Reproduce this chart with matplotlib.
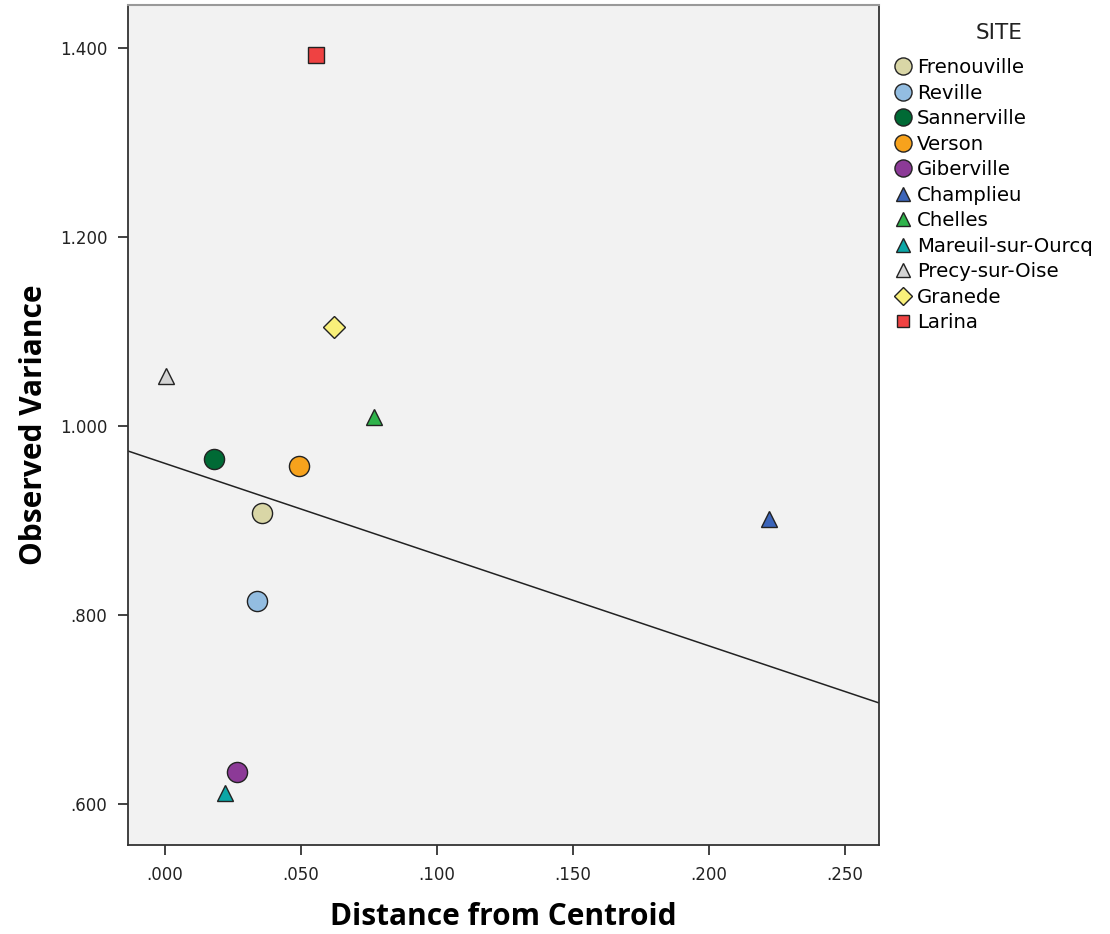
import matplotlib
matplotlib.use("Agg")
import matplotlib.pyplot as plt
from matplotlib.ticker import FuncFormatter

# ── data ─────────────────────────────────────────────────────
sites = ["Frenouville", "Reville", "Sannerville", "Verson", "Giberville",
         "Champlieu", "Chelles", "Mareuil-sur-Ourcq", "Precy-sur-Oise",
         "Granede", "Larina"]
distance = [0.0357, 0.0338, 0.0182, 0.0491, 0.0266,
            0.2220, 0.0768, 0.0222, 0.0004, 0.0622, 0.0557]
variance = [0.908, 0.815, 0.965, 0.958, 0.634,
            0.902, 1.009, 0.612, 1.053, 1.105, 1.393]
markers = ["o", "o", "o", "o", "o", "^", "^", "^", "^", "D", "s"]
colors = ["#d9d6a6", "#93bde1", "#006a35", "#f7a21c", "#8c3a97",
          "#3b64b9", "#2fb34b", "#0ba6a6", "#d4d4d4", "#f9f07a", "#ef4242"]
sizes = [14.5, 14.5, 14.5, 14.5, 14.5, 12, 12, 12, 12, 11, 11]

# fit line as drawn in the reference
fit_intercept = 0.9604
fit_slope = -0.9656

x_ticks = [0.0, 0.05, 0.10, 0.15, 0.20, 0.25]
y_ticks = [0.6, 0.8, 1.0, 1.2, 1.4]

fig = plt.figure(figsize=(11.1, 9.34), dpi=100)
ax = fig.add_axes([128 / 1110, 1 - 845 / 934, (879 - 128) / 1110, (845 - 5) / 934])
ax.set_facecolor("#f2f2f2")

ax.axline((0, fit_intercept), slope=fit_slope, color="#222222", lw=1.1, zorder=2)

for s, x, y, m, c, ms in zip(sites, distance, variance, markers, colors, sizes):
    ax.plot(x, y, marker=m, color=c, markersize=ms, markeredgecolor="#222222",
            markeredgewidth=1.0, linestyle="none", label=s, zorder=3)

ax.set_xlim(-0.0136, 0.2625)
ax.set_ylim(0.5566, 1.4455)
ax.set_xticks(x_ticks)
ax.set_yticks(y_ticks)

fmt = FuncFormatter(lambda v, _: f"{v:.3f}".lstrip("0") if v < 1 else f"{v:.3f}")
ax.xaxis.set_major_formatter(fmt)
ax.yaxis.set_major_formatter(fmt)
ax.tick_params(direction="out", length=7, width=1.3, color="#333333",
               labelsize=12, labelcolor="#222222", pad=8)

for side in ["left", "bottom", "right"]:
    ax.spines[side].set_color("#333333")
    ax.spines[side].set_linewidth(1.3)
ax.spines["top"].set_color("#999999")
ax.spines["top"].set_linewidth(1.5)

ax.set_xlabel("Distance from Centroid", fontsize=21.5, fontweight="bold",
              family=["Open Sans", "DejaVu Sans"], labelpad=13)
ax.set_ylabel("Observed Variance", fontsize=21.5, fontweight="bold",
              family=["Open Sans", "DejaVu Sans"], labelpad=8)

# legend (title placed separately to get the gap of the reference)
fig.text(999 / 1110, 1 - 33 / 934, "SITE", ha="center", va="center",
         fontsize=15.5, color="#222222")
ax.legend(loc="upper left", bbox_to_anchor=(893 / 1110, 1 - 58 / 934),
          bbox_transform=fig.transFigure, frameon=False,
          fontsize=14.2, handletextpad=0.22, labelspacing=0.33,
          borderaxespad=0, borderpad=0, handlelength=1.0, markerscale=0.85)

fig.savefig("out.png", dpi=100)
